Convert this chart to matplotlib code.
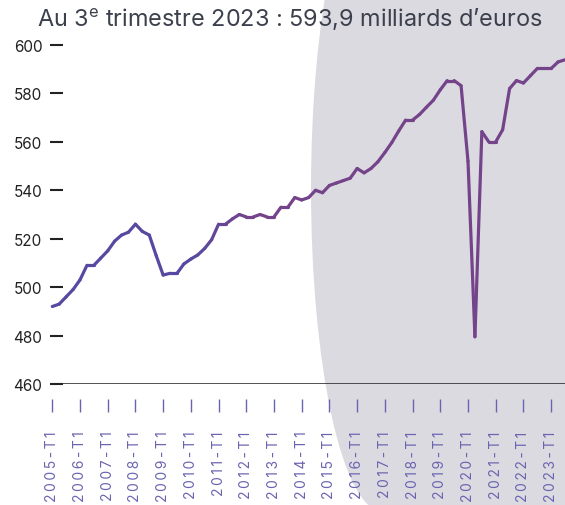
import numpy as np
import matplotlib
matplotlib.use("Agg")
import matplotlib.pyplot as plt
from matplotlib.collections import LineCollection
from matplotlib.colors import to_rgb
from matplotlib.patches import Ellipse, Rectangle

# quarterly values, 2005-T1 .. 2023-T3 (milliards d'euros)
values = [492, 493, 496, 499, 503, 509, 509, 512, 515, 519,
          521.5, 522.7, 526, 523, 521.5, 513, 505, 505.7, 505.7, 509.6,
          511.6, 513.3, 516, 519.6, 526, 526, 528.2, 530, 529, 529,
          530, 529, 529, 533, 533, 537, 536, 537, 540, 539,
          542, 543, 544, 545, 549, 547.2, 549, 551.8, 555.6, 559.7,
          564.5, 569, 569, 571.3, 574.3, 577.2, 581.5, 585.3, 585.3, 583.2,
          552, 479.5, 564.2, 560, 560, 565, 582, 585.3, 584.3, 587.3,
          590.3, 590.3, 590.3, 593, 593.9]
quarters = ['{}-T{}'.format(2005 + i // 4, i % 4 + 1) for i in range(len(values))]
yticks = [460, 480, 500, 520, 540, 560, 580, 600]
title = "Au 3$^{\\mathrm{e}}$ trimestre 2023 : 593,9 milliards d\u2019euros"

plt.rcParams['font.family'] = ['Inter', 'DejaVu Sans']
plt.rcParams['mathtext.fontset'] = 'custom'
plt.rcParams['mathtext.rm'] = 'Inter'

W, H = 565, 506
fig = plt.figure(figsize=(W / 100, H / 100), dpi=100)

# grey decorative shape on the right
fig.patches.append(Ellipse(((311 + 71) / W, 1 - 190 / H), 142 / W, 644 / H,
                           transform=fig.transFigure, facecolor='#dbdae0',
                           edgecolor='none', zorder=-10))
fig.patches.append(Rectangle((382 / W, 0), 1, 1, transform=fig.transFigure,
                             facecolor='#dbdae0', edgecolor='none', zorder=-10))

ax = fig.add_axes([50 / W, 121 / H, 515 / W, 339 / H])
ax.set_facecolor('none')

x = np.arange(len(values))
y = np.array(values)
pts = np.column_stack([x, y]).reshape(-1, 1, 2)
segs = np.concatenate([pts[:-1], pts[1:]], axis=1)
c1 = np.array(to_rgb('#5749a2'))
c2 = np.array(to_rgb('#74438a'))
t = np.clip((x[:-1] - 20) / 8.0, 0, 1)
cols = [c1 + (c2 - c1) * ti for ti in t]
lc = LineCollection(segs, colors=cols, linewidths=2.3, capstyle='round',
                    joinstyle='round')
ax.add_collection(lc)

ax.axhline(460, color='#222222', lw=1.1)
ax.set_xlim(-0.33, 74.0)
ax.set_ylim(460, 600)

for s in ['top', 'right', 'left']:
    ax.spines[s].set_visible(False)
ax.spines['bottom'].set_position(('outward', 11))
ax.spines['bottom'].set_visible(False)

ax.set_yticks(yticks)
ax.set_yticklabels([str(v) for v in yticks])
ax.tick_params(axis='y', direction='in', length=9.4, width=1.5,
               color='#222222', labelsize=11, labelcolor='#222222', pad=5.5)

tick_idx = list(range(0, len(values), 4))
ax.set_xticks(tick_idx)
ax.set_xticklabels(['\u2009'.join(quarters[i]) for i in tick_idx], rotation=90)
ax.tick_params(axis='x', direction='out', length=9.4, width=1.0,
               color='#6a64b0', labelsize=10, labelcolor='#6a64b0', pad=13)

fig.text(0.513, 1 - 27 / H, title, ha='center', va='baseline',
         fontsize=16.9, color='#3b404c')

fig.savefig('out.png', dpi=100)
